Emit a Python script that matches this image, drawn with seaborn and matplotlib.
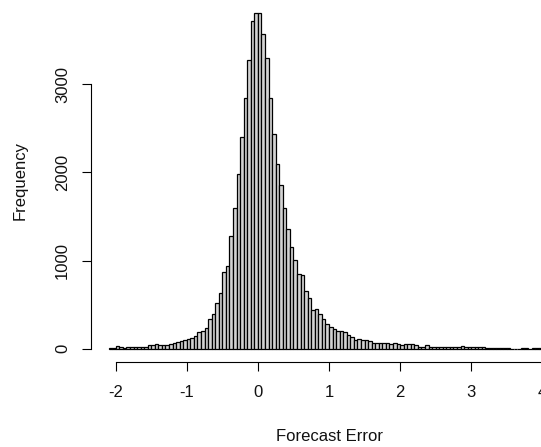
import numpy as np
import pandas as pd
import matplotlib
matplotlib.use('Agg')
import matplotlib.pyplot as plt
import seaborn as sns

# Histogram of forecast errors, bins of width 0.05 starting at -2.1
bin_start = -2.1
bin_width = 0.05
counts = [
    4, 11, 27, 15, 11, 23, 23, 15, 23, 23,                  # -2.10 .. -1.65
    23, 42, 42, 53, 42, 38, 38, 53, 64, 80,                 # -1.60 .. -1.15
    84, 99, 110, 121, 148, 193, 205, 231, 341, 398,         # -1.10 .. -0.65
    515, 636, 867, 932, 1276, 1599, 1977, 2401, 2845, 3280,  # -0.60 .. -0.15
    3720, 3805, 3805, 3575, 3303, 2848, 2432, 2091, 1852, 1599,  # -0.10 .. 0.35
    1360, 1151, 1008, 849, 835, 651, 576, 440, 451, 394,    # 0.40 .. 0.85
    335, 282, 246, 227, 201, 197, 186, 159, 133, 102,       # 0.90 .. 1.35
    110, 102, 95, 87, 68, 64, 64, 61, 64, 57,               # 1.40 .. 1.85
    64, 57, 42, 57, 57, 53, 42, 19, 19, 38,                 # 1.90 .. 2.35
    23, 23, 23, 23, 23, 19, 15, 15, 19, 27,                 # 2.40 .. 2.85
    15, 15, 15, 15, 15, 15, 11, 11, 11, 11,                 # 2.90 .. 3.35
    11, 11, 11, 0, 0, 0, 11, 11, 0, 11,                     # 3.40 .. 3.85
    11, 11, 4, 4,                                           # 3.90 .. 4.05
]
x_ticks = [-2, -1, 0, 1, 2, 3, 4]
y_ticks = [0, 1000, 2000, 3000]

edges = bin_start + bin_width * np.arange(len(counts) + 1)
df = pd.DataFrame({
    'error': (edges[:-1] + edges[1:]) / 2,
    'count': counts,
})

sns.set_style('white')
plt.rcParams['font.family'] = ['Liberation Sans', 'DejaVu Sans']

fig = plt.figure(figsize=(5.41, 4.47), dpi=100)
ax = fig.add_axes([91 / 541, 85 / 447, 476 / 541, 362 / 447])

sns.histplot(data=df, x='error', weights='count', bins=list(edges),
             stat='count', color='#D3D3D3', edgecolor='black',
             linewidth=0.9, alpha=1, ax=ax)

# R style limits: 4% padding around the data range
lo, hi = edges[0], edges[-1]
ymax = max(counts)
ax.set_xlim(lo - 0.04 * (hi - lo), hi + 0.04 * (hi - lo))
ax.set_ylim(-0.04 * ymax, 1.04 * ymax)

for side in ['top', 'right']:
    ax.spines[side].set_visible(False)
ax.spines['left'].set_bounds(y_ticks[0], y_ticks[-1])
ax.spines['bottom'].set_bounds(x_ticks[0], x_ticks[-1])
for side in ['left', 'bottom']:
    ax.spines[side].set_color('black')
    ax.spines[side].set_linewidth(0.8)

ax.set_xticks(x_ticks)
ax.set_yticks(y_ticks)
ax.set_xticklabels([str(t) for t in x_ticks])
ax.set_yticklabels([str(t) for t in y_ticks], rotation=90, va='center')
ax.tick_params(axis='both', direction='out', length=6.5, width=0.8,
               color='black', labelsize=12, labelcolor='#111111',
               bottom=True, left=True)
ax.tick_params(axis='x', pad=10)
ax.tick_params(axis='y', pad=8.5)

ax.set_xlabel('Forecast Error', fontsize=12, color='#111111')
ax.set_ylabel('Frequency', fontsize=12, color='#111111')
ax.xaxis.set_label_coords(0.5, -74.7 / 362)
ax.xaxis.label.set_va('center')
ax.yaxis.set_label_coords(-71 / 476, 0.5)
ax.yaxis.label.set_va('center')

fig.savefig('out.png', dpi=100)
